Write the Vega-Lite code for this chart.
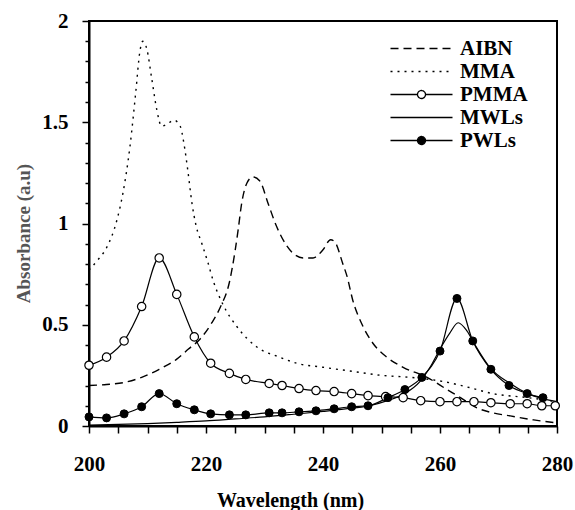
{
  "$schema": "https://vega.github.io/schema/vega-lite/v6.json",
  "width": 468,
  "height": 405,
  "autosize": {"type": "none"},
  "padding": {"left": 89, "top": 21, "right": 18, "bottom": 84},
  "background": "white",
  "config": {
    "view": {"stroke": "black", "strokeWidth": 2},
    "axis": {"grid": false, "domainColor": "black", "domainWidth": 2, "tickColor": "black", "tickWidth": 1.5, "labelFont": "Liberation Serif", "labelFontWeight": "bold", "labelFontSize": 21, "labelColor": "black", "titleFont": "Liberation Serif", "titleFontWeight": "bold"}
  },
  "data": {"values": [
    {"series": "AIBN", "wl": 200, "a": 0.2},
    {"series": "AIBN", "wl": 203, "a": 0.205},
    {"series": "AIBN", "wl": 206, "a": 0.215},
    {"series": "AIBN", "wl": 209, "a": 0.24},
    {"series": "AIBN", "wl": 212, "a": 0.28},
    {"series": "AIBN", "wl": 215, "a": 0.33},
    {"series": "AIBN", "wl": 217, "a": 0.38},
    {"series": "AIBN", "wl": 219, "a": 0.43},
    {"series": "AIBN", "wl": 221, "a": 0.51},
    {"series": "AIBN", "wl": 222.5, "a": 0.59},
    {"series": "AIBN", "wl": 224, "a": 0.71},
    {"series": "AIBN", "wl": 225, "a": 0.87},
    {"series": "AIBN", "wl": 225.5, "a": 0.97},
    {"series": "AIBN", "wl": 226.1, "a": 1.1},
    {"series": "AIBN", "wl": 227, "a": 1.2},
    {"series": "AIBN", "wl": 228, "a": 1.23},
    {"series": "AIBN", "wl": 229.2, "a": 1.21},
    {"series": "AIBN", "wl": 230.6, "a": 1.1},
    {"series": "AIBN", "wl": 232, "a": 0.99},
    {"series": "AIBN", "wl": 233.8, "a": 0.89},
    {"series": "AIBN", "wl": 235, "a": 0.85},
    {"series": "AIBN", "wl": 236.6, "a": 0.83},
    {"series": "AIBN", "wl": 238.3, "a": 0.83},
    {"series": "AIBN", "wl": 240, "a": 0.87},
    {"series": "AIBN", "wl": 241.3, "a": 0.92},
    {"series": "AIBN", "wl": 242, "a": 0.91},
    {"series": "AIBN", "wl": 243.4, "a": 0.8},
    {"series": "AIBN", "wl": 244.1, "a": 0.74},
    {"series": "AIBN", "wl": 245.1, "a": 0.62},
    {"series": "AIBN", "wl": 246.7, "a": 0.5},
    {"series": "AIBN", "wl": 248.5, "a": 0.41},
    {"series": "AIBN", "wl": 250.9, "a": 0.34},
    {"series": "AIBN", "wl": 253.7, "a": 0.29},
    {"series": "AIBN", "wl": 257.8, "a": 0.24},
    {"series": "AIBN", "wl": 261.2, "a": 0.18},
    {"series": "AIBN", "wl": 263.5, "a": 0.14},
    {"series": "AIBN", "wl": 266.3, "a": 0.09},
    {"series": "AIBN", "wl": 269, "a": 0.065},
    {"series": "AIBN", "wl": 272, "a": 0.05},
    {"series": "AIBN", "wl": 276, "a": 0.03},
    {"series": "AIBN", "wl": 280, "a": 0.015},
    {"series": "MMA", "wl": 200, "a": 0.77},
    {"series": "MMA", "wl": 201.5, "a": 0.82},
    {"series": "MMA", "wl": 203, "a": 0.88},
    {"series": "MMA", "wl": 204.8, "a": 1.02},
    {"series": "MMA", "wl": 205.8, "a": 1.15},
    {"series": "MMA", "wl": 207, "a": 1.38},
    {"series": "MMA", "wl": 208, "a": 1.65},
    {"series": "MMA", "wl": 208.7, "a": 1.85},
    {"series": "MMA", "wl": 209.2, "a": 1.9},
    {"series": "MMA", "wl": 209.9, "a": 1.86},
    {"series": "MMA", "wl": 210.7, "a": 1.72},
    {"series": "MMA", "wl": 211.6, "a": 1.56},
    {"series": "MMA", "wl": 212.4, "a": 1.48},
    {"series": "MMA", "wl": 213.3, "a": 1.49},
    {"series": "MMA", "wl": 214.5, "a": 1.51},
    {"series": "MMA", "wl": 215.6, "a": 1.48},
    {"series": "MMA", "wl": 216.2, "a": 1.4},
    {"series": "MMA", "wl": 216.9, "a": 1.26},
    {"series": "MMA", "wl": 217.6, "a": 1.1},
    {"series": "MMA", "wl": 218.3, "a": 0.99},
    {"series": "MMA", "wl": 219.3, "a": 0.9},
    {"series": "MMA", "wl": 220.3, "a": 0.81},
    {"series": "MMA", "wl": 221.2, "a": 0.72},
    {"series": "MMA", "wl": 222.9, "a": 0.6},
    {"series": "MMA", "wl": 225.3, "a": 0.49},
    {"series": "MMA", "wl": 228.7, "a": 0.39},
    {"series": "MMA", "wl": 232.6, "a": 0.34},
    {"series": "MMA", "wl": 235.5, "a": 0.31},
    {"series": "MMA", "wl": 240, "a": 0.29},
    {"series": "MMA", "wl": 245, "a": 0.27},
    {"series": "MMA", "wl": 250, "a": 0.25},
    {"series": "MMA", "wl": 255, "a": 0.24},
    {"series": "MMA", "wl": 260.5, "a": 0.22},
    {"series": "MMA", "wl": 265, "a": 0.19},
    {"series": "MMA", "wl": 269, "a": 0.16},
    {"series": "MMA", "wl": 275, "a": 0.14},
    {"series": "MMA", "wl": 280, "a": 0.12},
    {"series": "MWLs", "wl": 200, "a": 0.005},
    {"series": "MWLs", "wl": 205, "a": 0.008},
    {"series": "MWLs", "wl": 210, "a": 0.012},
    {"series": "MWLs", "wl": 215, "a": 0.018},
    {"series": "MWLs", "wl": 220, "a": 0.025},
    {"series": "MWLs", "wl": 225, "a": 0.035},
    {"series": "MWLs", "wl": 230, "a": 0.045},
    {"series": "MWLs", "wl": 235, "a": 0.058},
    {"series": "MWLs", "wl": 240, "a": 0.072},
    {"series": "MWLs", "wl": 245, "a": 0.088},
    {"series": "MWLs", "wl": 248, "a": 0.1},
    {"series": "MWLs", "wl": 251, "a": 0.125},
    {"series": "MWLs", "wl": 254, "a": 0.16},
    {"series": "MWLs", "wl": 256.6, "a": 0.22},
    {"series": "MWLs", "wl": 258.5, "a": 0.3},
    {"series": "MWLs", "wl": 260, "a": 0.38},
    {"series": "MWLs", "wl": 261.7, "a": 0.46},
    {"series": "MWLs", "wl": 263.1, "a": 0.51},
    {"series": "MWLs", "wl": 264.6, "a": 0.47},
    {"series": "MWLs", "wl": 266, "a": 0.4},
    {"series": "MWLs", "wl": 268.5, "a": 0.29},
    {"series": "MWLs", "wl": 272, "a": 0.21},
    {"series": "MWLs", "wl": 275, "a": 0.16},
    {"series": "MWLs", "wl": 280, "a": 0.12},
    {"series": "PMMA", "wl": 200, "a": 0.3},
    {"series": "PMMA", "wl": 203, "a": 0.34},
    {"series": "PMMA", "wl": 206, "a": 0.42},
    {"series": "PMMA", "wl": 209, "a": 0.59},
    {"series": "PMMA", "wl": 212, "a": 0.83},
    {"series": "PMMA", "wl": 215, "a": 0.65},
    {"series": "PMMA", "wl": 218, "a": 0.44},
    {"series": "PMMA", "wl": 220.8, "a": 0.31},
    {"series": "PMMA", "wl": 224, "a": 0.26},
    {"series": "PMMA", "wl": 226.8, "a": 0.23},
    {"series": "PMMA", "wl": 230.8, "a": 0.21},
    {"series": "PMMA", "wl": 233, "a": 0.2},
    {"series": "PMMA", "wl": 235.9, "a": 0.185},
    {"series": "PMMA", "wl": 238.8, "a": 0.175},
    {"series": "PMMA", "wl": 241.9, "a": 0.17},
    {"series": "PMMA", "wl": 244.9, "a": 0.16},
    {"series": "PMMA", "wl": 247.7, "a": 0.15},
    {"series": "PMMA", "wl": 250.7, "a": 0.145},
    {"series": "PMMA", "wl": 253.7, "a": 0.14},
    {"series": "PMMA", "wl": 256.7, "a": 0.125},
    {"series": "PMMA", "wl": 260, "a": 0.12},
    {"series": "PMMA", "wl": 262.9, "a": 0.12},
    {"series": "PMMA", "wl": 265.8, "a": 0.12},
    {"series": "PMMA", "wl": 268.7, "a": 0.115},
    {"series": "PMMA", "wl": 272, "a": 0.11},
    {"series": "PMMA", "wl": 274.9, "a": 0.11},
    {"series": "PMMA", "wl": 277.4, "a": 0.1},
    {"series": "PMMA", "wl": 279.7, "a": 0.1},
    {"series": "PWLs", "wl": 200, "a": 0.045},
    {"series": "PWLs", "wl": 203, "a": 0.04},
    {"series": "PWLs", "wl": 206, "a": 0.06},
    {"series": "PWLs", "wl": 209, "a": 0.095},
    {"series": "PWLs", "wl": 212, "a": 0.16},
    {"series": "PWLs", "wl": 215, "a": 0.11},
    {"series": "PWLs", "wl": 218, "a": 0.08},
    {"series": "PWLs", "wl": 220.8, "a": 0.06},
    {"series": "PWLs", "wl": 224, "a": 0.055},
    {"series": "PWLs", "wl": 226.8, "a": 0.055},
    {"series": "PWLs", "wl": 230.8, "a": 0.065},
    {"series": "PWLs", "wl": 233, "a": 0.065},
    {"series": "PWLs", "wl": 235.9, "a": 0.07},
    {"series": "PWLs", "wl": 238.8, "a": 0.075},
    {"series": "PWLs", "wl": 241.9, "a": 0.085},
    {"series": "PWLs", "wl": 244.9, "a": 0.095},
    {"series": "PWLs", "wl": 247.7, "a": 0.1},
    {"series": "PWLs", "wl": 251.1, "a": 0.14},
    {"series": "PWLs", "wl": 254, "a": 0.18},
    {"series": "PWLs", "wl": 256.9, "a": 0.24},
    {"series": "PWLs", "wl": 260, "a": 0.37},
    {"series": "PWLs", "wl": 262.9, "a": 0.63},
    {"series": "PWLs", "wl": 265.6, "a": 0.42},
    {"series": "PWLs", "wl": 268.7, "a": 0.28},
    {"series": "PWLs", "wl": 271.8, "a": 0.2},
    {"series": "PWLs", "wl": 274.9, "a": 0.16},
    {"series": "PWLs", "wl": 277.6, "a": 0.14}
  ]},
  "encoding": {
    "x": {"field": "wl", "type": "quantitative",
      "scale": {"domain": [200, 280], "nice": false, "zero": false},
      "axis": {"values": [200,205,210,215,220,225,230,235,240,245,250,255,260,265,270,275,280],
        "labelExpr": "datum.value % 20 == 0 ? datum.value : ''",
        "tickSize": 7, "labelPadding": 20, "labelFlush": false,
        "title": "Wavelength (nm)", "titleFontSize": 20, "titleColor": "black",
        "titleX": 201, "titleY": 74, "titleBaseline": "middle", "titleAlign": "center"}},
    "y": {"field": "a", "type": "quantitative",
      "scale": {"domain": [0, 2], "nice": false, "zero": true},
      "axis": {"values": [0,0.1,0.2,0.3,0.4,0.5,0.6,0.7,0.8,0.9,1,1.1,1.2,1.3,1.4,1.5,1.6,1.7,1.8,1.9,2],
        "labelExpr": "abs(datum.value*2 - round(datum.value*2)) < 0.001 ? format(datum.value, '~g') : ''",
        "tickSize": {"condition": {"test": "abs(datum.value*2 - round(datum.value*2)) < 0.001", "value": 7}, "value": 4},
        "labelPadding": 14, "labelFlush": false,
        "title": "Absorbance (a.u)", "titleFontSize": 19, "titleColor": "#555555",
        "titleX": -66, "titleY": 212, "titleAngle": -90, "titleAlign": "center", "titleBaseline": "middle"}}
  },
  "layer": [
    {
      "transform": [{"filter": "datum.series == 'AIBN'"}],
      "mark": {"type": "line", "color": "black", "strokeWidth": 1.4, "strokeDash": [8, 5], "interpolate": "monotone"}
    },
    {
      "transform": [{"filter": "datum.series == 'MMA'"}],
      "mark": {"type": "line", "color": "black", "strokeWidth": 1.4, "strokeDash": [2, 5], "interpolate": "monotone"}
    },
    {
      "transform": [{"filter": "datum.series == 'PMMA' || datum.series == 'MWLs' || datum.series == 'PWLs'"}],
      "mark": {"type": "line", "color": "black", "strokeWidth": 1.2, "interpolate": "monotone"},
      "encoding": {"detail": {"field": "series"}}
    },
    {
      "transform": [{"filter": "datum.series == 'PMMA'"}],
      "mark": {"type": "point", "shape": "circle", "size": 70, "filled": true, "fill": "white", "stroke": "black", "strokeWidth": 1.2, "opacity": 1}
    },
    {
      "transform": [{"filter": "datum.series == 'PWLs'"}],
      "mark": {"type": "point", "shape": "circle", "size": 64, "filled": true, "fill": "black", "stroke": "black", "strokeWidth": 1, "opacity": 1}
    },
    {
      "transform": [{"filter": "datum.series == 'none'"}],
      "mark": {"type": "point", "filled": true, "size": 64, "strokeWidth": 1.3, "opacity": 1},
      "encoding": {
        "shape": {"field": "series", "type": "nominal",
          "scale": {"domain": ["AIBN", "MMA", "PMMA", "MWLs", "PWLs"],
            "range": ["M-7.75,0H7.75", "M-7.75,0H7.75", "M-7.75,0H-1M1,0H7.75M1,0A1,1 0 1,1 -1,0A1,1 0 1,1 1,0Z", "M-7.75,0H7.75", "M-7.75,0H-1M1,0H7.75M1,0A1,1 0 1,1 -1,0A1,1 0 1,1 1,0Z"]},
          "legend": {"title": null, "orient": "none", "legendX": 322, "legendY": 17, "padding": 0,
            "labelFont": "Liberation Serif", "labelFontWeight": "bold", "labelFontSize": 21, "labelColor": "black",
            "labelOffset": 28, "rowPadding": 1, "symbolSize": 64, "symbolStrokeColor": "black", "symbolStrokeWidth": 1.3}},
        "fill": {"field": "series", "type": "nominal",
          "scale": {"domain": ["AIBN", "MMA", "PMMA", "MWLs", "PWLs"], "range": ["transparent", "transparent", "white", "transparent", "black"]}},
        "stroke": {"field": "series", "type": "nominal",
          "scale": {"domain": ["AIBN", "MMA", "PMMA", "MWLs", "PWLs"], "range": ["black", "black", "black", "black", "black"]}},
        "strokeDash": {"field": "series", "type": "nominal",
          "scale": {"domain": ["AIBN", "MMA", "PMMA", "MWLs", "PWLs"], "range": [[8, 5], [2, 5], [1, 0], [1, 0], [1, 0]]}}
      }
    }
  ]
}
